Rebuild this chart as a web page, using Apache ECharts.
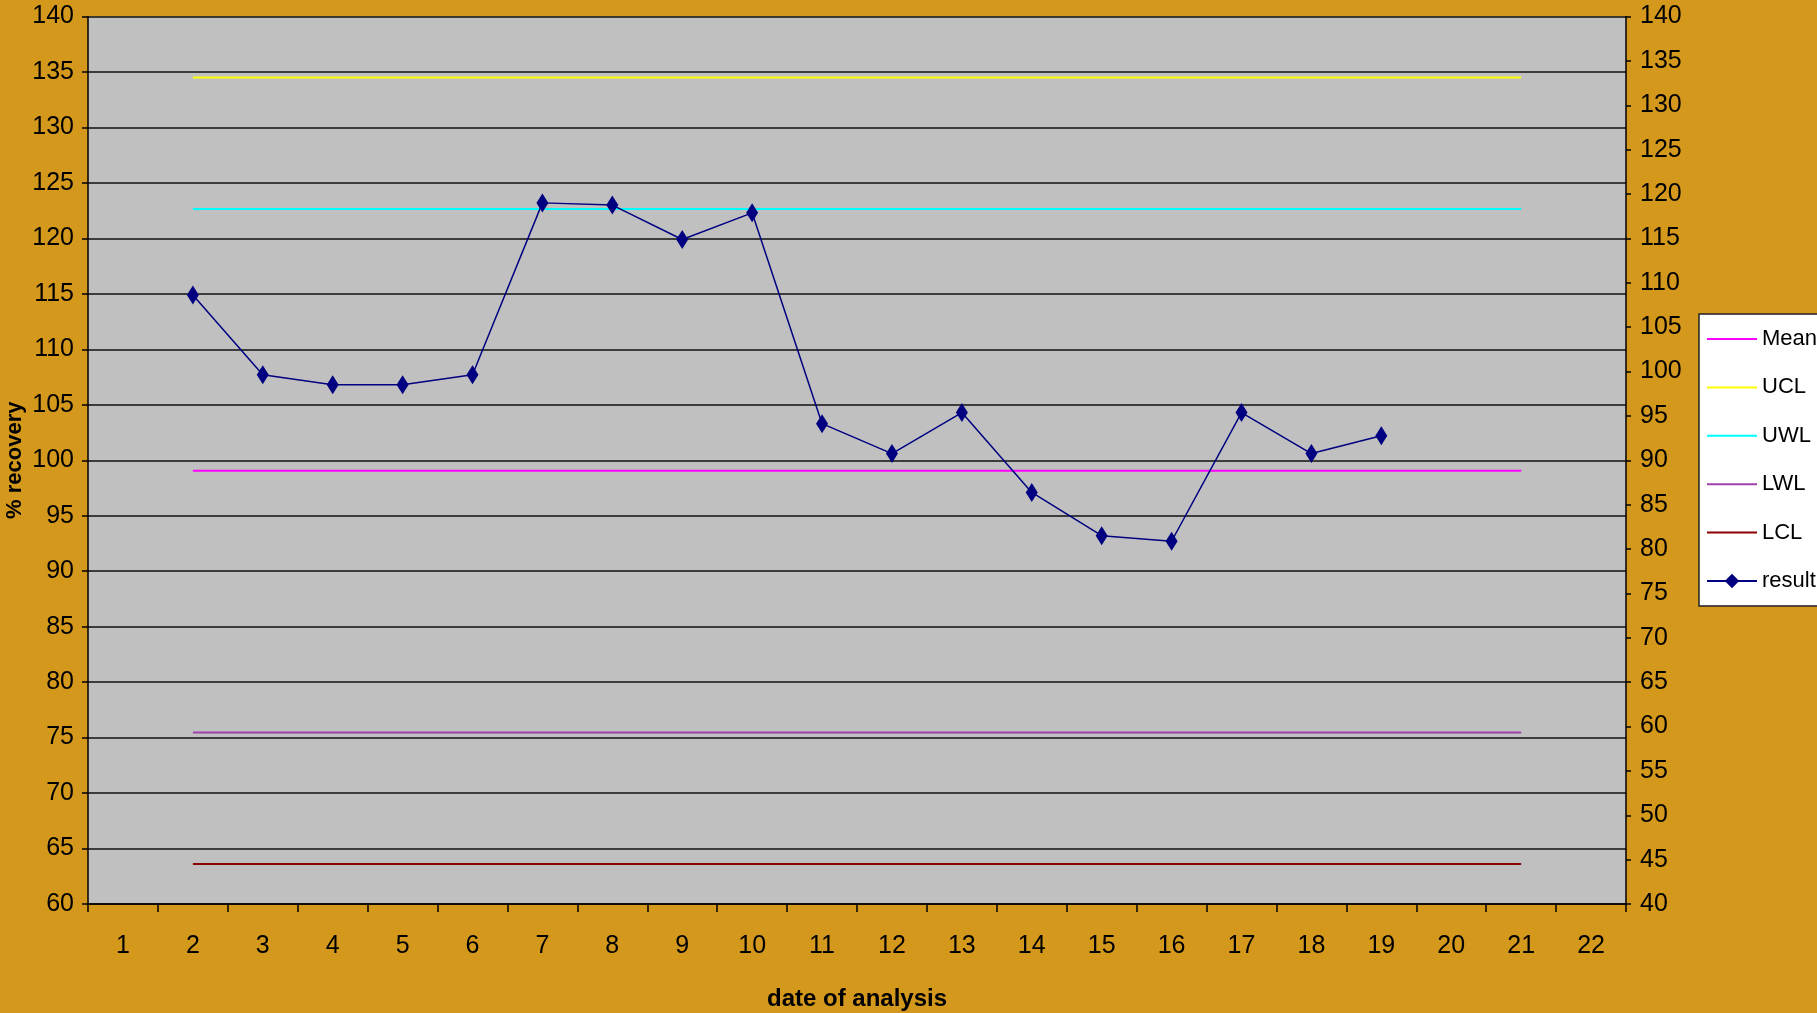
<!DOCTYPE html>
<html>
<head>
<meta charset="utf-8">
<script src="https://cdn.jsdelivr.net/npm/echarts@6/dist/echarts.min.js"></script>
<style>
html,body{margin:0;padding:0;width:1817px;height:1013px;overflow:hidden;background:#D4981C;}
#c{width:1817px;height:1013px;}
</style>
</head>
<body>
<div id="c"></div>
<script>
// ---- data ----
const categories = ['1','2','3','4','5','6','7','8','9','10','11','12','13','14','15','16','17','18','19','20','21','22'];
const resultValues = [null,114.9,107.7,106.8,106.8,107.7,123.2,123.0,119.9,122.3,103.3,100.6,104.3,97.1,93.2,92.7,104.3,100.6,102.2,null,null,null];
const limitStart = '2';
const limitEnd = '21';
const meanValue = 99.05;
const uclValue = 134.5;
const uwlValue = 122.65;
const lwlValue = 75.45;
const lclValue = 63.6;
const leftTicks = {min:60, max:140, interval:5};
const rightTicks = {min:40, max:140, interval:5};

const FONT = '"Liberation Sans Narrow","Arial Narrow","Liberation Sans",sans-serif';

function limitSeries(name, value, color, width){
  return {
    name: name, type:'line', xAxisIndex:0, yAxisIndex:0,
    data: [[limitStart, value],[limitEnd, value]],
    symbol:'none', silent:true,
    lineStyle:{color:color, width:width},
    itemStyle:{color:color}
  };
}
function limitLegend(name){
  return {name:name, itemStyle:{opacity:0}};
}

const chart = echarts.init(document.getElementById('c'), null, {renderer:'canvas'});
chart.setOption({
  backgroundColor:'#D4981C',
  animation:false,
  textStyle:{fontFamily:FONT},
  grid:{left:88, right:191, top:16.5, bottom:109, show:true, backgroundColor:'#C0C0C0', borderWidth:0, containLabel:false, outerBoundsMode:'none'},
  legend:{
    orient:'vertical', left:1699, top:314,
    padding:[14,12,14,7],
    itemWidth:50, itemHeight:18, itemGap:26.4,
    backgroundColor:'#ffffff', borderColor:'#222', borderWidth:1.5,
    textStyle:{fontFamily:FONT, fontSize:22, color:'#000'},
    data:[limitLegend('Mean'),limitLegend('UCL'),limitLegend('UWL'),limitLegend('LWL'),limitLegend('LCL'),{name:'result'}]
  },
  xAxis:{
    type:'category', data:categories, boundaryGap:true,
    axisLine:{lineStyle:{color:'#000', width:1.5}},
    axisTick:{show:true, length:8, lineStyle:{color:'#000', width:1.5}},
    axisLabel:{color:'#000', fontSize:25, margin:30, fontFamily:FONT},
    splitLine:{show:false},
    name:'date of analysis', nameLocation:'middle', nameGap:83, nameMoveOverlap:false,
    nameTextStyle:{fontFamily:FONT, fontWeight:'bold', fontSize:24, color:'#000'}
  },
  yAxis:[{
    type:'value', position:'left', min:leftTicks.min, max:leftTicks.max, interval:leftTicks.interval,
    axisLine:{show:true, lineStyle:{color:'#000', width:1.5}},
    axisTick:{show:true, length:6, lineStyle:{color:'#000', width:1.5}},
    axisLabel:{color:'#000', fontSize:25, margin:14, fontFamily:FONT},
    splitLine:{show:true, lineStyle:{color:'#111', width:1.5}},
    name:'% recovery', nameLocation:'middle', nameGap:62, nameRotate:90, nameMoveOverlap:false,
    nameTextStyle:{fontFamily:FONT, fontWeight:'bold', fontSize:22, color:'#000'}
  },{
    type:'value', position:'right', min:rightTicks.min, max:rightTicks.max, interval:rightTicks.interval,
    axisLine:{show:true, lineStyle:{color:'#000', width:1.5}},
    axisTick:{show:true, length:5, lineStyle:{color:'#000', width:1.5}},
    axisLabel:{color:'#000', fontSize:25, margin:14, fontFamily:FONT},
    splitLine:{show:false}
  }],
  series:[
    limitSeries('Mean', meanValue, '#FF00FF', 2),
    limitSeries('UCL', uclValue, '#FFFF00', 2),
    limitSeries('UWL', uwlValue, '#00FFFF', 2),
    limitSeries('LWL', lwlValue, '#A040A8', 2),
    limitSeries('LCL', lclValue, '#8B0000', 2),
    {
      name:'result', type:'line', xAxisIndex:0, yAxisIndex:0,
      data: resultValues,
      symbol:'diamond', symbolSize:[12,19],
      lineStyle:{color:'#000080', width:1.5},
      itemStyle:{color:'#000080'}
    }
  ]
});
</script>
</body>
</html>
